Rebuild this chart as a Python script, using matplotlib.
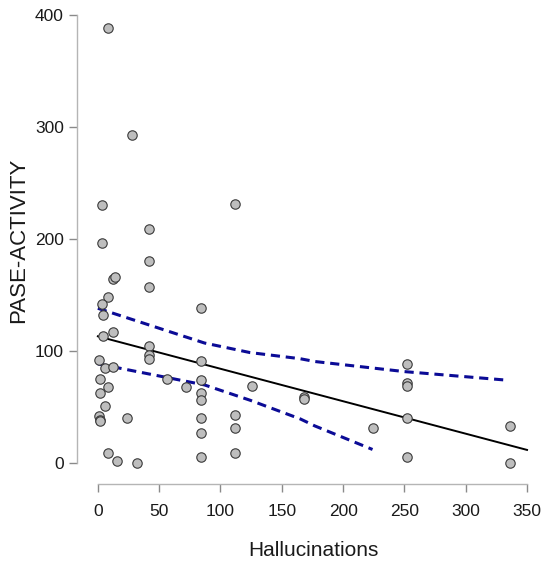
import numpy as np
import matplotlib
matplotlib.use("Agg")
import matplotlib.pyplot as plt

# values
hallucinations = [8, 28, 3, 112, 42, 3, 42, 12, 14, 42, 8, 3, 4, 84, 12, 4, 42, 42, 42,
                  1, 84, 6, 12, 2, 56, 84, 8, 72, 126, 2, 84, 84, 6, 112, 1, 2, 2, 24,
                  84, 112, 84, 8, 112, 16, 32, 84, 168, 168, 252, 252, 252, 252, 224,
                  252, 336, 336]
pase_activity = [388, 293, 230, 231, 209, 196, 180, 164, 166, 157, 148, 142, 132, 138,
                 117, 113, 104, 96, 93, 92, 91, 85, 86, 75, 75, 74, 68, 68, 69, 62, 62,
                 56, 51, 43, 42, 38, 37, 40, 40, 31, 27, 9, 9, 2, 0, 5, 59, 57, 88, 71,
                 69, 40, 31, 5, 33, 0]

fit_x = [0, 350]
fit_y = [113, 11.6]

upper_x = [0, 87, 124, 165, 177, 250, 332]
upper_y = [138, 107, 98.5, 93, 90.5, 81.5, 74]
lower_x = [0, 87, 124, 165, 177, 224]
lower_y = [88.4, 69.6, 56, 39.3, 33, 12]

x_ticks = [0, 50, 100, 150, 200, 250, 300, 350]
y_ticks = [0, 100, 200, 300, 400]

plt.rcParams['font.family'] = ['Liberation Sans', 'DejaVu Sans']

fig = plt.figure(figsize=(5.5, 5.7), dpi=100)
ax = fig.add_axes([0.14, 0.151, 0.845, 0.833])

ax.scatter(hallucinations, pase_activity, s=46, facecolor='#bebebe',
           edgecolor='#3a3a3a', linewidth=0.8, zorder=3)
ax.plot(fit_x, fit_y, color='black', lw=1.4, zorder=2)
ax.plot(upper_x, upper_y, color='#0b0b96', lw=2.2, dashes=(3, 1.9), zorder=2)
ax.plot(lower_x, lower_y, color='#0b0b96', lw=2.2, dashes=(3, 1.9), zorder=2)

ax.set_xlim(-17, 362)
ax.set_ylim(-18.75, 405)
ax.set_xticks(x_ticks)
ax.set_yticks(y_ticks)

for s in ['top', 'right']:
    ax.spines[s].set_visible(False)
ax.spines['left'].set_bounds(0, 400)
ax.spines['bottom'].set_bounds(0, 350)
for s in ['left', 'bottom']:
    ax.spines[s].set_color('#b5b5b5')
    ax.spines[s].set_linewidth(1.0)

ax.tick_params(axis='both', colors='#8a8a8a', length=5.5, width=1.0,
               labelcolor='#1a1a1a', labelsize=12.5)
ax.tick_params(axis='x', pad=9)
ax.tick_params(axis='y', pad=4)

fig.text(313 / 550, 1 - 550 / 570, 'Hallucinations', ha='center', va='center',
         fontsize=15, color='#1a1a1a')
fig.text(19 / 550, 1 - 240 / 570, 'PASE-ACTIVITY', ha='center', va='center',
         rotation=90, fontsize=16, color='#1a1a1a')

fig.savefig('out.png', dpi=100)
